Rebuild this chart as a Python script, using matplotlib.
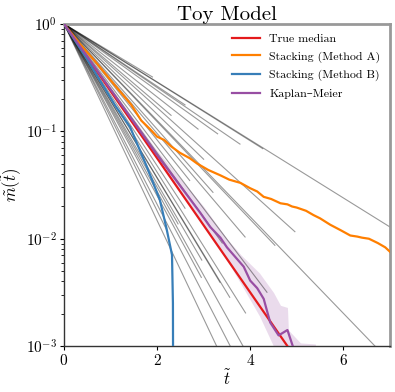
import matplotlib.pyplot as plt
import numpy as np

plt.rcParams["font.family"] = ["cmr10", "DejaVu Serif"]
plt.rcParams["mathtext.fontset"] = "cm"
plt.rcParams["axes.formatter.use_mathtext"] = True

# individual objects: decay rate (decades per unit t) and last time observed
grey_slopes = [0.26, 0.27, 0.272, 0.29, 0.296, 0.31, 0.34, 0.37, 0.39, 0.42,
               0.449, 0.455, 0.49, 0.51, 0.54, 0.573, 0.60, 0.66, 0.69, 0.715,
               0.718, 0.743, 0.76, 0.78, 0.80, 0.84, 0.87, 0.915]
grey_tend = [1.9, 7.0, 4.27, 2.6, 3.78, 3.3, 2.88, 2.3, 4.96, 3.0,
             7.0, 4.53, 3.2, 3.89, 2.7, 4.36, 3.4, 2.6, 3.9, 3.56,
             3.35, 2.96, 2.45, 5.0, 2.95, 5.0, 2.2, 5.0]

# true median
true_t = [0.0, 7.0]
true_log = [0.0, -4.375]

# stacking, method A
a_t = [0.0, 0.35, 0.71, 1.07, 1.44, 1.66, 1.85, 2.0, 2.15, 2.3, 2.49, 2.7,
       2.86, 3.1, 3.36, 3.55, 3.79, 4.0, 4.15, 4.29, 4.45, 4.65, 4.8, 4.9,
       5.0, 5.2, 5.36, 5.5, 5.72, 5.94, 6.15, 6.3, 6.4, 6.55, 6.74, 6.9, 7.0]
a_log = [0.0, -0.19, -0.37, -0.56, -0.75, -0.90, -0.98, -1.05, -1.08, -1.14,
         -1.20, -1.25, -1.30, -1.36, -1.41, -1.45, -1.48, -1.53, -1.56, -1.61,
         -1.63, -1.67, -1.68, -1.70, -1.71, -1.74, -1.78, -1.81, -1.87, -1.92,
         -1.97, -1.98, -1.99, -2.00, -2.04, -2.08, -2.12]

# stacking, method B
b_t = [0.0, 0.5, 1.1, 1.42, 1.78, 2.06, 2.2, 2.32, 2.34, 2.345]
b_log = [0.0, -0.33, -0.76, -0.96, -1.33, -1.64, -1.90, -2.15, -2.6, -3.5]

# Kaplan-Meier with its band
km_t = [0.0, 1.0, 2.0, 2.93, 3.14, 3.36, 3.5, 3.7, 3.86, 4.0, 4.15, 4.29,
        4.43, 4.61, 4.8, 4.93]
km_log = [0.0, -0.61, -1.22, -1.76, -1.89, -1.99, -2.08, -2.18, -2.26, -2.39,
          -2.46, -2.56, -2.78, -2.90, -2.85, -3.02]
band_t = [0.0, 1.0, 2.0, 3.0, 3.5, 3.8, 4.2, 4.5, 4.65, 4.8, 4.82, 5.08, 5.4]
band_lo = [0.0, -0.64, -1.27, -1.88, -2.20, -2.42, -2.72, -3.0, -3.1, -3.2,
           -3.2, -3.3, -3.3]
band_hi = [0.0, -0.59, -1.18, -1.70, -2.00, -2.15, -2.32, -2.50, -2.62, -2.64,
           -2.85, -2.97, -2.98]

fig = plt.figure(figsize=(3.95, 3.92), dpi=100)
ax = fig.add_axes([0.162, 0.117, 0.825, 0.822])

for s, te in zip(grey_slopes, grey_tend):
    tt = np.array([0.0, te])
    ax.plot(tt, 10 ** (-s * tt), color="k", alpha=0.4, lw=0.8)

ax.fill_between(band_t, 10 ** np.array(band_lo), 10 ** np.array(band_hi),
                color="#984ea3", alpha=0.2, lw=0)
ax.plot(true_t, 10 ** np.array(true_log), color="#e41a1c", lw=1.6,
        label="True median", zorder=4)
ax.plot(a_t, 10 ** np.array(a_log), color="#ff7f00", lw=1.6,
        label="Stacking (Method A)", zorder=4)
ax.plot(b_t, 10 ** np.array(b_log), color="#377eb8", lw=1.6,
        label="Stacking (Method B)", zorder=4)
ax.plot(km_t, 10 ** np.array(km_log), color="#984ea3", lw=1.6,
        label="Kaplan–Meier", zorder=5)

ax.set_yscale("log")
ax.set_xlim(0, 7)
ax.set_ylim(1e-3, 1)
ax.set_xticks([0, 2, 4, 6])
ax.tick_params(labelsize=11, length=3, pad=2)
ax.tick_params(which="minor", length=2)
ax.set_xlabel(r"$\tilde{t}$", fontsize=12, labelpad=0)
ax.set_ylabel(r"$\tilde{m}(\tilde{t})$", fontsize=12, labelpad=1)
ax.set_title("Toy Model", fontsize=15, pad=1)

for side in ["top", "right"]:
    ax.spines[side].set_color("#999999")
    ax.spines[side].set_linewidth(2)
for side in ["left", "bottom"]:
    ax.spines[side].set_color("#333333")
    ax.spines[side].set_linewidth(1)

ax.legend(loc="upper right", frameon=False, fontsize=8.6, handlelength=2.3,
          labelspacing=0.6, borderaxespad=0.4)

fig.savefig("out.png")
